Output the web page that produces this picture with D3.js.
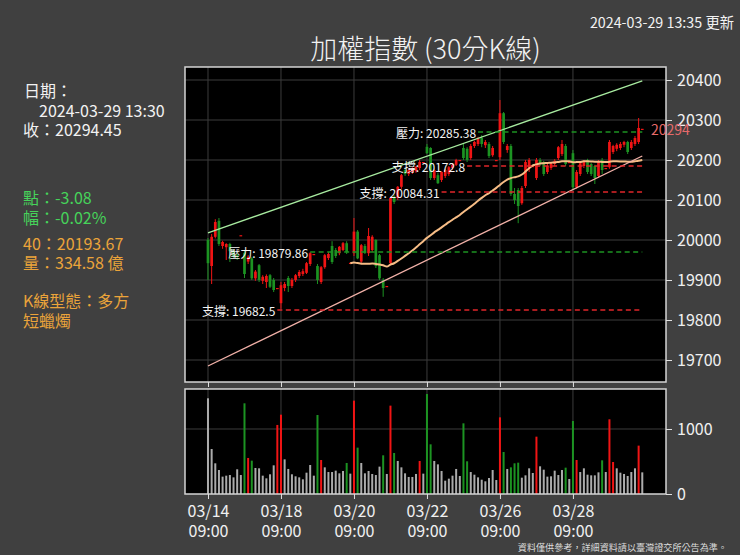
<!DOCTYPE html>
<html lang="zh-Hant">
<head>
<meta charset="UTF-8" />
<title>加權指數 (30分K線)</title>
<style>
  body { margin: 0; background: #404040; }
  svg { display: block; font-family: "Noto Sans CJK TC", "Noto Sans", sans-serif; }
  .frame { fill: none; stroke: #d4d4d4; stroke-width: 1.5px; }
  .grid line { stroke: #3c3c3c; stroke-width: 1px; }
  .axis path { display: none; }
  .axis line { stroke: #e0e0e0; }
  .axis text { fill: #f0f0f0; font-size: 16px; font-family: "Noto Sans CJK TC", sans-serif; }
  .lvl-label { fill: #f4f4f4; font-size: 12px; }
  .info { font-size: 16px; }
</style>
</head>
<body>
<svg id="chart" width="740" height="555"></svg>
<script src="https://d3js.org/d3.v7.min.js"></script>
<script>
  // trading days, ten 30-minute bars each (13:30 = closing auction)
  const days = ["03/14", "03/15", "03/18", "03/19", "03/20", "03/21",
                "03/22", "03/25", "03/26", "03/27", "03/28", "03/29"];
  const slots = ["09:00", "09:30", "10:00", "10:30", "11:00",
                 "11:30", "12:00", "12:30", "13:00", "13:30"];
  const tickDays = ["03/14", "03/18", "03/20", "03/22", "03/26", "03/28"];

  const opens = [
    20000, 19935, 20008, 20048, 19985, 19982, 19990, 19972, 19962, 20012,
    19968, 19946, 19954, 19904, 19937, 19898, 19895, 19912, 19900, 19880,
    19842, 19880, 19905, 19885, 19900, 19910, 19915, 19918, 19940, 19965,
    19935, 19895, 19932, 19955, 19985, 19975, 19967, 19975, 19992, 19943,
    19967, 20021, 19946, 19985, 19967, 19975, 20000, 19962, 19900, 19885,
    19942, 20108, 20105, 20133, 20175, 20165, 20170, 20172, 20180, 20195,
    20233, 20230, 20155, 20162, 20150, 20160, 20165, 20180, 20188, 20200,
    20230, 20228, 20205, 20235, 20240, 20255, 20237, 20240, 20212, 20200,
    20207, 20317, 20225, 20235, 20115, 20125, 20092, 20135, 20180, 20185,
    20155, 20200, 20195, 20170, 20180, 20190, 20205, 20215, 20235, 20195,
    20217, 20132, 20165, 20185, 20200, 20190, 20185, 20160, 20200, 20180,
    20182, 20220, 20228, 20230, 20238, 20245, 20230, 20240, 20245, 20278
  ];
  const highs = [
    20005, 20015, 20052, 20055, 19998, 19992, 19993, 19976, 19968, 20012,
    19975, 19962, 19958, 19925, 19940, 19912, 19914, 19915, 19905, 19880,
    19895, 19895, 19910, 19905, 19915, 19925, 19928, 19945, 19970, 19965,
    19940, 19935, 19965, 19970, 19997, 19980, 19985, 19995, 19997, 19943,
    20055, 20025, 19990, 19990, 20030, 20012, 20002, 19965, 19905, 19885,
    20108, 20112, 20135, 20165, 20180, 20178, 20182, 20185, 20200, 20195,
    20240, 20232, 20178, 20168, 20172, 20178, 20185, 20192, 20203, 20200,
    20240, 20232, 20240, 20248, 20258, 20262, 20250, 20245, 20235, 20200,
    20350, 20320, 20240, 20240, 20130, 20130, 20135, 20200, 20205, 20185,
    20205, 20205, 20198, 20190, 20195, 20202, 20235, 20250, 20240, 20195,
    20225, 20175, 20195, 20200, 20203, 20193, 20188, 20200, 20205, 20180,
    20250, 20238, 20242, 20245, 20248, 20248, 20250, 20260, 20305, 20278
  ];
  const lows = [
    19900, 19890, 20004, 19985, 19978, 19950, 19945, 19955, 19950, 20012,
    19905, 19940, 19900, 19898, 19895, 19890, 19880, 19880, 19870, 19880,
    19828, 19872, 19870, 19880, 19895, 19905, 19910, 19915, 19935, 19965,
    19890, 19890, 19928, 19950, 19940, 19955, 19962, 19972, 19965, 19943,
    19960, 19952, 19940, 19965, 19960, 19970, 19930, 19900, 19858, 19885,
    19938, 20090, 20100, 20128, 20160, 20160, 20165, 20168, 20175, 20195,
    20215, 20150, 20150, 20140, 20145, 20155, 20160, 20175, 20185, 20200,
    20200, 20195, 20200, 20230, 20235, 20232, 20230, 20205, 20208, 20200,
    20200, 20240, 20218, 20110, 20090, 20042, 20088, 20130, 20170, 20185,
    20150, 20185, 20160, 20165, 20175, 20185, 20200, 20210, 20185, 20195,
    20125, 20128, 20160, 20180, 20165, 20160, 20140, 20155, 20165, 20180,
    20178, 20215, 20222, 20225, 20232, 20215, 20225, 20235, 20240, 20278
  ];
  const closes = [
    19942, 20008, 20045, 19990, 19995, 19990, 19972, 19960, 19958, 20012,
    19915, 19958, 19904, 19921, 19900, 19908, 19910, 19883, 19875, 19880,
    19887, 19890, 19885, 19900, 19912, 19920, 19922, 19942, 19967, 19965,
    19900, 19932, 19962, 19965, 19945, 19960, 19983, 19992, 19970, 19943,
    20021, 19954, 19987, 19968, 20010, 20008, 19935, 19904, 19880, 19885,
    20105, 20095, 20133, 20162, 20165, 20175, 20180, 20183, 20195, 20195,
    20217, 20155, 20175, 20142, 20170, 20175, 20182, 20188, 20200, 20200,
    20205, 20200, 20235, 20245, 20255, 20240, 20245, 20210, 20230, 20200,
    20317, 20245, 20235, 20115, 20100, 20085, 20130, 20195, 20200, 20185,
    20200, 20190, 20165, 20185, 20192, 20198, 20232, 20240, 20190, 20195,
    20132, 20170, 20192, 20195, 20170, 20165, 20155, 20195, 20175, 20180,
    20245, 20235, 20238, 20240, 20245, 20220, 20245, 20255, 20280, 20278
  ];
  // 成交量 (億)
  const volumes = [
    1472, 692, 472, 369, 267, 282, 292, 256, 380, 292,
    1395, 554, 513, 400, 395, 282, 241, 303, 441, 1062,
    1220, 533, 385, 303, 272, 256, 226, 328, 446, 282,
    1215, 523, 410, 338, 338, 359, 318, 354, 477, 313,
    1436, 713, 477, 318, 354, 308, 292, 421, 595, 308,
    1359, 631, 508, 410, 318, 262, 262, 308, 508, 313,
    1538, 764, 508, 456, 354, 205, 236, 282, 385, 277,
    1087, 503, 338, 297, 256, 220, 195, 246, 369, 215,
    1179, 646, 385, 410, 472, 482, 251, 287, 395, 323,
    882, 426, 374, 267, 272, 359, 292, 369, 405, 231,
    1123, 523, 338, 395, 297, 287, 287, 333, 518, 338,
    1149, 492, 395, 328, 308, 277, 338, 395, 744, 333
  ];
  // bars whose volume is drawn in the candle colour
  const hotVolume = [10, 11, 12, 19, 20, 30, 31, 38, 40, 41, 48, 50, 51, 58, 60, 61,
                     70, 71, 80, 81, 83, 84, 85, 90, 98, 100, 101, 108, 110, 111, 118];

  const maPeriod = 40;
  // channel lines: [bar index, value]
  const upperTrend = [[0, 20018], [119, 20398]];
  const lowerTrend = [[0, 19685], [119, 20210]];
  // support / resistance
  const levels = [
    { kind: "支撐", text: "19682.5", from: 19, value: 19825 },
    { kind: "壓力", text: "19879.86", from: 28, value: 19970 },
    { kind: "支撐", text: "20084.31", from: 64, value: 20120 },
    { kind: "支撐", text: "20172.8", from: 71, value: 20185 },
    { kind: "壓力", text: "20285.38", from: 74, value: 20270 }
  ];
  const yTicks = [19700, 19800, 19900, 20000, 20100, 20200, 20300, 20400];
  const volTicks = [0, 1000];
  const lastPrice = "20294";

  const infoLines = [
    { text: "日期：", color: "#f2f2f2", x: 24, y: 90 },
    { text: "2024-03-29 13:30", color: "#f2f2f2", x: 39, y: 110 },
    { text: "收：20294.45", color: "#f2f2f2", x: 23, y: 129 },
    { text: "點：-3.08", color: "#46d35a", x: 23, y: 197 },
    { text: "幅：-0.02%", color: "#46d35a", x: 23, y: 217 },
    { text: "40：20193.67", color: "#eba43a", x: 23, y: 243 },
    { text: "量：334.58 億", color: "#eba43a", x: 23, y: 262 },
    { text: "K線型態：多方", color: "#eba43a", x: 23, y: 300 },
    { text: "短蠟燭", color: "#eba43a", x: 23, y: 320 }
  ];

  const bars = d3.range(opens.length).map(i => ({
    i,
    day: days[Math.floor(i / slots.length)],
    slot: slots[i % slots.length],
    o: opens[i], h: highs[i], l: lows[i], c: closes[i], v: volumes[i]
  }));

  const RED = "#f01414", GREEN = "#1c9322";

  const svg = d3.select("#chart");
  const main = { l: 185, r: 666, t: 67, b: 382 };
  const vol = { t: 389, b: 494 };

  const x = d3.scaleLinear().domain([-6.3, 125.5]).range([main.l, main.r]);
  const y = d3.scaleLinear().domain([19645, 20432.5]).range([main.b, main.t]);
  const yv = d3.scaleLinear().domain([0, 1615]).range([vol.b, vol.t]);
  const tickIdx = tickDays.map(d => days.indexOf(d) * slots.length);

  svg.append("rect").attr("width", 740).attr("height", 555).attr("fill", "#404040");
  svg.append("rect").attr("x", main.l).attr("y", main.t)
    .attr("width", main.r - main.l).attr("height", main.b - main.t).attr("fill", "#000");
  svg.append("rect").attr("x", main.l).attr("y", vol.t)
    .attr("width", main.r - main.l).attr("height", vol.b - vol.t).attr("fill", "#000");

  // grid
  const grid = svg.append("g").attr("class", "grid");
  grid.selectAll(".gy").data(yTicks).join("line")
    .attr("x1", main.l).attr("x2", main.r)
    .attr("y1", d => y(d)).attr("y2", d => y(d));
  grid.selectAll(".gv").data(volTicks.slice(1)).join("line")
    .attr("x1", main.l).attr("x2", main.r)
    .attr("y1", d => yv(d)).attr("y2", d => yv(d));
  tickIdx.forEach(t => {
    grid.append("line").attr("x1", x(t)).attr("x2", x(t)).attr("y1", main.t).attr("y2", main.b);
    grid.append("line").attr("x1", x(t)).attr("x2", x(t)).attr("y1", vol.t).attr("y2", vol.b);
  });

  const isUp = d => d.c >= d.o;

  // candles
  const candles = svg.append("g").selectAll("g").data(bars).join("g");
  candles.append("line")
    .attr("x1", d => x(d.i)).attr("x2", d => x(d.i))
    .attr("y1", d => y(d.h)).attr("y2", d => y(d.l))
    .attr("stroke", d => isUp(d) ? RED : GREEN).attr("stroke-width", 1);
  candles.append("rect")
    .attr("x", d => x(d.i) - 1.35).attr("width", 2.7)
    .attr("y", d => y(Math.max(d.o, d.c)))
    .attr("height", d => Math.max(1.2, Math.abs(y(d.o) - y(d.c))))
    .attr("fill", d => isUp(d) ? RED : GREEN);

  // moving average
  const ma = bars.filter(d => d.i >= maPeriod - 1).map(d => ({
    i: d.i, v: d3.mean(closes.slice(d.i - maPeriod + 1, d.i + 1))
  }));
  svg.append("path").datum(ma)
    .attr("d", d3.line().x(d => x(d.i)).y(d => y(d.v)).curve(d3.curveMonotoneX))
    .attr("fill", "none").attr("stroke", "#f7bd86").attr("stroke-width", 2);

  // channel
  const seg = d3.line().x(d => x(d[0])).y(d => y(d[1]));
  svg.append("path").attr("d", seg(upperTrend)).attr("stroke", "#a8eba0").attr("stroke-width", 1.3).attr("fill", "none");
  svg.append("path").attr("d", seg(lowerTrend)).attr("stroke", "#f2b1a8").attr("stroke-width", 1.3).attr("fill", "none");

  // support / resistance levels
  const lastIdx = bars.length - 1;
  const lv = svg.append("g").selectAll("g").data(levels).join("g");
  lv.append("line")
    .attr("x1", d => x(d.from)).attr("x2", x(lastIdx))
    .attr("y1", d => y(d.value)).attr("y2", d => y(d.value))
    .attr("stroke", d => d.kind === "支撐" ? "#e0262a" : "#1c9322")
    .attr("stroke-width", 1.5).attr("stroke-dasharray", "5,3.5");
  lv.append("text").attr("class", "lvl-label")
    .attr("x", d => x(d.from) - 2).attr("y", d => y(d.value))
    .attr("text-anchor", "end").attr("dominant-baseline", "central")
    .text(d => `${d.kind}: ${d.text}`);

  // volume
  svg.append("g").selectAll("rect").data(bars).join("rect")
    .attr("x", d => x(d.i) - 1).attr("width", 2)
    .attr("y", d => yv(d.v)).attr("height", d => yv(0) - yv(d.v))
    .attr("fill", d => hotVolume.includes(d.i) ? (isUp(d) ? RED : GREEN) : "#ababab");

  // frames
  svg.append("rect").attr("class", "frame").attr("x", main.l).attr("y", main.t)
    .attr("width", main.r - main.l).attr("height", main.b - main.t);
  svg.append("rect").attr("class", "frame").attr("x", main.l).attr("y", vol.t)
    .attr("width", main.r - main.l).attr("height", vol.b - vol.t);

  // axes
  svg.append("g").attr("class", "axis").attr("transform", `translate(${main.r},0)`)
    .call(d3.axisRight(y).tickValues(yTicks).tickSize(6).tickPadding(5).tickFormat(d3.format("d")));
  svg.append("g").attr("class", "axis").attr("transform", `translate(${main.r},0)`)
    .call(d3.axisRight(yv).tickValues(volTicks).tickSize(6).tickPadding(5).tickFormat(d3.format("d")));
  svg.append("g").attr("class", "axis").attr("transform", `translate(0,${main.b})`)
    .call(d3.axisBottom(x).tickValues(tickIdx).tickSize(5).tickFormat(""));
  const xa = svg.append("g").attr("class", "axis").attr("transform", `translate(0,${vol.b})`)
    .call(d3.axisBottom(x).tickValues(tickIdx).tickSize(5).tickPadding(7).tickFormat(""));
  xa.selectAll(".tick text").each(function (d) {
    const t = d3.select(this);
    [bars[d].day, bars[d].slot].forEach((s, k) =>
      t.append("tspan").attr("x", 0).attr("dy", k ? "1.25em" : "0.71em").text(s));
  });

  // last price tag
  const last = bars[lastIdx];
  svg.append("text").attr("x", main.r - 15).attr("y", y(last.c))
    .attr("dominant-baseline", "central").attr("fill", "#e66a6a").attr("font-size", 14)
    .text(lastPrice);

  // titles and notes
  svg.append("text").attr("x", (main.l + main.r) / 2).attr("y", 47)
    .attr("text-anchor", "middle").attr("dominant-baseline", "central")
    .attr("fill", "#f2f2f2").attr("font-size", 27).attr("font-weight", 300)
    .text("加權指數 (30分K線)");
  svg.append("text").attr("x", 734).attr("y", 21)
    .attr("text-anchor", "end").attr("dominant-baseline", "central")
    .attr("fill", "#f2f2f2").attr("font-size", 14.3).text("2024-03-29 13:35 更新");
  svg.append("text").attr("x", 727).attr("y", 547)
    .attr("text-anchor", "end").attr("dominant-baseline", "central")
    .attr("fill", "#dcdcdc").attr("font-size", 9.1).text("資料僅供參考，詳細資料請以臺灣證交所公告為準。");

  svg.append("g").selectAll("text").data(infoLines).join("text")
    .attr("class", "info")
    .attr("x", d => d.x).attr("y", d => d.y)
    .attr("dominant-baseline", "central")
    .attr("fill", d => d.color).text(d => d.text);
</script>
</body>
</html>
